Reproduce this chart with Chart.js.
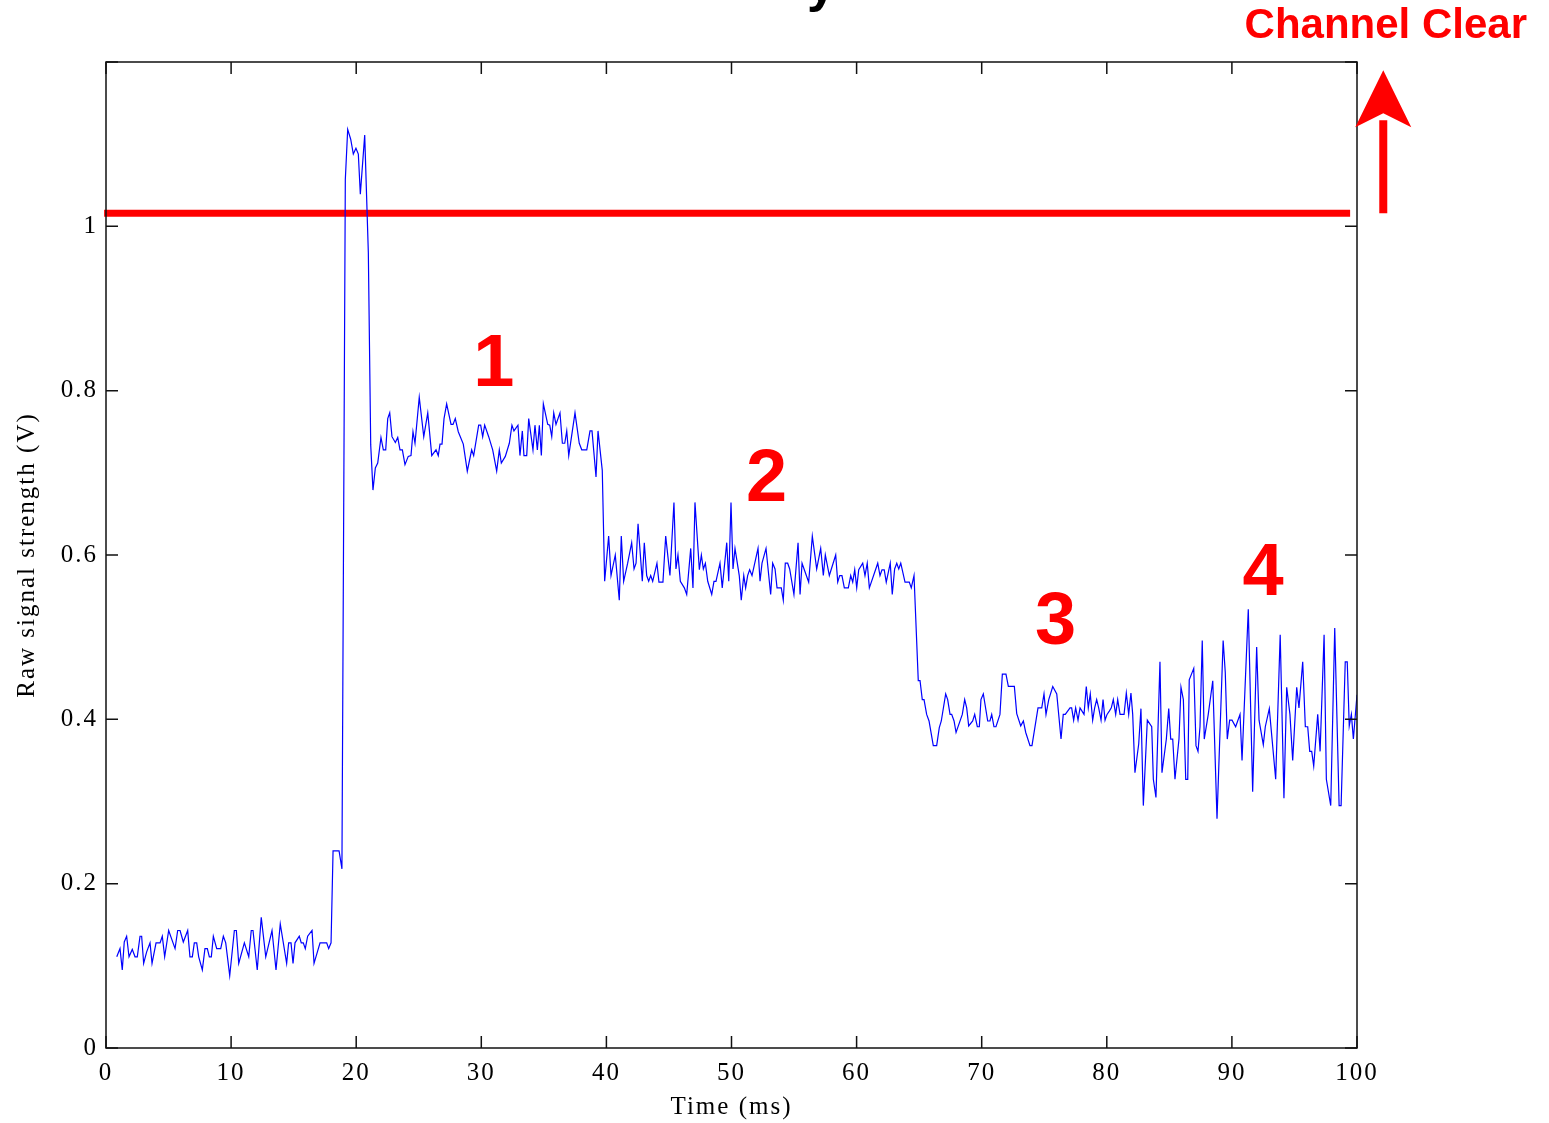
<!DOCTYPE html>
<html>
<head>
<meta charset="utf-8">
<script src="https://cdn.jsdelivr.net/npm/chart.js@4/dist/chart.umd.min.js"></script>
<style>
  html, body { margin: 0; padding: 0; background: #fff; }
  canvas { display: block; }
</style>
</head>
<body>
<canvas id="signalChart" width="1549" height="1123"></canvas>
<script>
// Time samples (ms) and raw signal (V)
const timeMs = [
  0.86, 1.12, 1.30, 1.46, 1.65, 1.84, 2.10, 2.32, 2.50, 2.72, 2.85, 3.01, 3.25, 3.52, 3.68, 4.00, 4.32, 4.50, 4.69, 5.01,
  5.52, 5.73, 5.92, 6.18, 6.53, 6.71, 6.90, 7.06, 7.25, 7.41, 7.70, 7.91, 8.10, 8.26, 8.42, 8.58, 8.85, 9.17, 9.38, 9.57,
  9.89, 10.26, 10.42, 10.61, 11.06, 11.41, 11.61, 11.75, 12.09, 12.41, 12.77, 13.27, 13.59, 13.93, 14.44, 14.60, 14.79, 14.95, 15.11, 15.45,
  15.61, 15.77, 15.93, 16.12, 16.47, 16.63, 17.11, 17.64, 17.80, 17.99, 18.15, 18.63, 18.86, 19.13, 19.32, 19.56, 19.77, 19.98, 20.17, 20.33,
  20.68, 20.97, 21.16, 21.34, 21.53, 21.72, 21.98, 22.17, 22.36, 22.52, 22.68, 22.86, 23.13, 23.32, 23.50, 23.69, 23.90, 24.16, 24.38, 24.54,
  24.70, 25.04, 25.40, 25.72, 26.04, 26.38, 26.56, 26.70, 26.86, 27.02, 27.23, 27.58, 27.74, 27.92, 28.16, 28.56, 28.88, 29.23, 29.39, 29.79,
  29.95, 30.11, 30.27, 30.59, 30.91, 31.23, 31.44, 31.60, 31.92, 32.24, 32.45, 32.61, 32.93, 33.09, 33.28, 33.41, 33.63, 33.79, 34.13, 34.29,
  34.48, 34.64, 34.80, 34.96, 35.31, 35.47, 35.63, 35.79, 35.97, 36.29, 36.48, 36.67, 36.83, 36.99, 37.49, 37.83, 38.03, 38.43, 38.69, 38.85,
  39.17, 39.33, 39.67, 39.86, 40.18, 40.37, 40.71, 41.03, 41.19, 41.38, 41.70, 42.02, 42.21, 42.37, 42.53, 42.87, 43.03, 43.22, 43.38, 43.54,
  43.70, 44.04, 44.20, 44.52, 44.74, 45.08, 45.40, 45.56, 45.72, 45.91, 46.23, 46.42, 46.74, 46.92, 47.08, 47.43, 47.59, 47.75, 47.91, 48.10,
  48.42, 48.60, 48.76, 49.08, 49.26, 49.62, 49.78, 49.96, 50.12, 50.28, 50.62, 50.78, 50.98, 51.13, 51.29, 51.45, 51.64, 52.12, 52.28, 52.44,
  52.76, 53.13, 53.29, 53.48, 53.64, 53.98, 54.14, 54.30, 54.49, 54.65, 54.99, 55.32, 55.48, 55.64, 55.82, 56.17, 56.46, 56.81, 57.13, 57.34,
  57.50, 57.82, 58.33, 58.49, 58.65, 58.83, 59.02, 59.34, 59.53, 59.69, 59.85, 60.01, 60.17, 60.49, 60.67, 60.85, 61.02, 61.69, 61.87, 62.03,
  62.21, 62.37, 62.69, 62.85, 63.04, 63.21, 63.37, 63.53, 63.87, 64.21, 64.37, 64.59, 64.93, 65.07, 65.25, 65.39, 65.60, 65.79, 66.13, 66.40,
  66.61, 66.77, 67.12, 67.28, 67.47, 67.60, 67.79, 67.95, 68.45, 68.64, 68.80, 68.96, 69.28, 69.44, 69.65, 69.81, 69.94, 70.13, 70.48, 70.66,
  70.80, 70.98, 71.14, 71.46, 71.65, 71.94, 72.13, 72.61, 72.80, 73.12, 73.33, 73.52, 73.86, 74.02, 74.50, 74.80, 74.98, 75.14, 75.36, 75.68,
  76.00, 76.34, 76.52, 76.68, 76.87, 77.06, 77.19, 77.35, 77.51, 77.70, 77.86, 78.18, 78.36, 78.52, 78.68, 78.87, 79.03, 79.19, 79.35, 79.54,
  79.70, 79.86, 80.02, 80.20, 80.36, 80.52, 80.71, 80.87, 81.06, 81.38, 81.56, 81.75, 81.93, 82.07, 82.25, 82.55, 82.73, 82.92, 83.24, 83.59,
  83.72, 83.93, 84.25, 84.41, 84.76, 84.95, 85.11, 85.27, 85.45, 85.77, 85.93, 86.12, 86.31, 86.47, 86.59, 86.95, 87.13, 87.29, 87.45, 87.63,
  87.79, 88.11, 88.47, 88.81, 89.30, 89.47, 89.63, 89.82, 90.01, 90.30, 90.65, 90.81, 91.31, 91.66, 91.98, 92.17, 92.51, 92.67, 92.99, 93.50,
  93.86, 94.16, 94.38, 94.64, 94.86, 95.18, 95.36, 95.66, 95.87, 96.06, 96.22, 96.38, 96.54, 96.86, 97.05, 97.37, 97.55, 97.90, 98.22, 98.57,
  98.73, 99.06, 99.22, 99.38, 99.55, 99.71, 100.0
];
const signalV = [
  0.111, 0.121, 0.095, 0.129, 0.136, 0.111, 0.120, 0.111, 0.111, 0.136, 0.136, 0.103, 0.117, 0.128, 0.103, 0.128, 0.128, 0.136, 0.111, 0.143,
  0.121, 0.143, 0.143, 0.129, 0.143, 0.111, 0.111, 0.128, 0.128, 0.111, 0.095, 0.121, 0.121, 0.111, 0.111, 0.136, 0.121, 0.121, 0.136, 0.128,
  0.088, 0.143, 0.143, 0.103, 0.128, 0.111, 0.143, 0.143, 0.095, 0.159, 0.111, 0.143, 0.095, 0.151, 0.103, 0.128, 0.128, 0.103, 0.128, 0.136,
  0.128, 0.128, 0.121, 0.136, 0.143, 0.103, 0.128, 0.128, 0.121, 0.128, 0.240, 0.240, 0.218, 1.057, 1.118, 1.106, 1.088, 1.095, 1.088, 1.039,
  1.111, 0.968, 0.734, 0.679, 0.706, 0.712, 0.743, 0.728, 0.728, 0.766, 0.773, 0.744, 0.737, 0.743, 0.728, 0.728, 0.710, 0.720, 0.721, 0.750,
  0.736, 0.792, 0.744, 0.773, 0.721, 0.728, 0.721, 0.735, 0.735, 0.766, 0.784, 0.759, 0.759, 0.766, 0.750, 0.735, 0.702, 0.728, 0.721, 0.758,
  0.758, 0.744, 0.758, 0.744, 0.728, 0.702, 0.728, 0.712, 0.720, 0.736, 0.758, 0.751, 0.758, 0.721, 0.751, 0.721, 0.721, 0.766, 0.728, 0.758,
  0.728, 0.758, 0.721, 0.784, 0.759, 0.758, 0.744, 0.773, 0.759, 0.773, 0.736, 0.736, 0.751, 0.721, 0.773, 0.736, 0.728, 0.728, 0.751, 0.751,
  0.695, 0.751, 0.703, 0.568, 0.623, 0.575, 0.600, 0.545, 0.623, 0.568, 0.590, 0.615, 0.583, 0.590, 0.638, 0.568, 0.615, 0.575, 0.568, 0.575,
  0.568, 0.590, 0.567, 0.567, 0.623, 0.575, 0.664, 0.583, 0.600, 0.568, 0.560, 0.552, 0.608, 0.560, 0.664, 0.582, 0.600, 0.583, 0.590, 0.568,
  0.552, 0.568, 0.568, 0.590, 0.560, 0.615, 0.568, 0.664, 0.583, 0.608, 0.575, 0.545, 0.575, 0.560, 0.575, 0.582, 0.575, 0.608, 0.568, 0.590,
  0.608, 0.552, 0.590, 0.583, 0.560, 0.560, 0.545, 0.590, 0.590, 0.583, 0.552, 0.615, 0.552, 0.590, 0.582, 0.567, 0.623, 0.583, 0.608, 0.575,
  0.600, 0.575, 0.600, 0.567, 0.575, 0.575, 0.560, 0.560, 0.575, 0.567, 0.582, 0.560, 0.582, 0.590, 0.575, 0.590, 0.560, 0.590, 0.575, 0.582,
  0.582, 0.567, 0.590, 0.552, 0.583, 0.590, 0.583, 0.590, 0.567, 0.567, 0.560, 0.575, 0.447, 0.447, 0.424, 0.424, 0.406, 0.398, 0.368, 0.368,
  0.390, 0.398, 0.431, 0.424, 0.406, 0.406, 0.398, 0.384, 0.406, 0.424, 0.414, 0.392, 0.398, 0.406, 0.391, 0.391, 0.424, 0.431, 0.398, 0.398,
  0.406, 0.391, 0.391, 0.406, 0.455, 0.455, 0.440, 0.440, 0.407, 0.392, 0.398, 0.384, 0.368, 0.368, 0.414, 0.414, 0.431, 0.406, 0.424, 0.440,
  0.431, 0.376, 0.406, 0.406, 0.410, 0.414, 0.414, 0.399, 0.414, 0.399, 0.414, 0.406, 0.440, 0.414, 0.431, 0.399, 0.414, 0.424, 0.414, 0.399,
  0.424, 0.399, 0.406, 0.410, 0.414, 0.424, 0.406, 0.424, 0.406, 0.406, 0.432, 0.406, 0.432, 0.406, 0.335, 0.370, 0.413, 0.295, 0.399, 0.391,
  0.327, 0.305, 0.470, 0.335, 0.376, 0.413, 0.376, 0.376, 0.327, 0.376, 0.439, 0.424, 0.327, 0.327, 0.448, 0.462, 0.368, 0.361, 0.391, 0.496,
  0.376, 0.406, 0.447, 0.279, 0.496, 0.457, 0.376, 0.399, 0.399, 0.391, 0.406, 0.350, 0.534, 0.312, 0.488, 0.399, 0.369, 0.391, 0.413, 0.327,
  0.503, 0.304, 0.439, 0.406, 0.350, 0.439, 0.414, 0.470, 0.391, 0.391, 0.361, 0.361, 0.343, 0.406, 0.361, 0.503, 0.327, 0.295, 0.511, 0.295,
  0.295, 0.470, 0.470, 0.392, 0.406, 0.376, 0.430
];

// Threshold line and annotations
const thresholdV = 1.016;
const thresholdSpan = [-0.15, 99.45];
const stageLabels = ['1', '2', '3', '4'];
const stageX = [31.0, 52.8, 75.9, 92.5];
const stageY = [0.831, 0.690, 0.516, 0.576];
const clearLabel = 'Channel Clear';
const clearPos = [102.3, 1.243];
const arrowX = 102.1;
const arrowFromTo = [1.016, 1.19];

const xTicks = [0, 10, 20, 30, 40, 50, 60, 70, 80, 90, 100];
const yTicks = [0, 0.2, 0.4, 0.6, 0.8, 1.0, 1.2];

const serif = '"Liberation Serif", "Times New Roman", serif';
const sans = '"Liberation Sans", Arial, sans-serif';

// the axis text in the original is loosely spaced
const spacingPlugin = {
    id: 'spacing',
    beforeDraw(chart) { chart.ctx.letterSpacing = '2px'; },
    afterDraw(chart) { chart.ctx.letterSpacing = '0px'; }
};

// box, inward ticks, red labels and arrow
const decorPlugin = {
    id: 'decor',
    afterDatasetsDraw(chart) {
        const ctx = chart.ctx;
        const a = chart.chartArea;
        const xs = chart.scales.x;
        const ys = chart.scales.y;
        const tick = 12;

        ctx.save();
        ctx.letterSpacing = '0px';
        ctx.strokeStyle = '#111';
        ctx.lineWidth = 1.5;
        ctx.strokeRect(a.left, a.top, a.right - a.left, a.bottom - a.top);
        ctx.beginPath();
        xTicks.forEach(v => {
            const px = xs.getPixelForValue(v);
            ctx.moveTo(px, a.bottom); ctx.lineTo(px, a.bottom - tick);
            ctx.moveTo(px, a.top); ctx.lineTo(px, a.top + tick);
        });
        yTicks.forEach(v => {
            const py = ys.getPixelForValue(v);
            ctx.moveTo(a.left, py); ctx.lineTo(a.left + tick, py);
            ctx.moveTo(a.right, py); ctx.lineTo(a.right - tick, py);
        });
        ctx.stroke();

        // stage numbers
        ctx.fillStyle = '#ff0000';
        ctx.textAlign = 'center';
        ctx.textBaseline = 'middle';
        ctx.font = 'bold 74px ' + sans;
        stageLabels.forEach((s, i) => {
            ctx.fillText(s, xs.getPixelForValue(stageX[i]), ys.getPixelForValue(stageY[i]));
        });

        ctx.font = 'bold 42px ' + sans;
        ctx.fillText(clearLabel, xs.getPixelForValue(clearPos[0]), ys.getPixelForValue(clearPos[1]));

        // arrow
        const ax = xs.getPixelForValue(arrowX);
        const y0 = ys.getPixelForValue(arrowFromTo[0]);
        const y1 = ys.getPixelForValue(arrowFromTo[1]);
        ctx.strokeStyle = '#ff0000';
        ctx.lineWidth = 8;
        ctx.beginPath();
        ctx.moveTo(ax, y0);
        ctx.lineTo(ax, y1 + 50);
        ctx.stroke();
        ctx.beginPath();
        ctx.moveTo(ax, y1);
        ctx.lineTo(ax + 28, y1 + 57);
        ctx.lineTo(ax, y1 + 43);
        ctx.lineTo(ax - 28, y1 + 57);
        ctx.closePath();
        ctx.fill();

        // cut-off title glyph at the top edge
        ctx.fillStyle = '#000';
        ctx.font = 'bold 52px ' + sans;
        ctx.textBaseline = 'alphabetic';
        ctx.fillText('y', xs.getPixelForValue(57.2), 1);
        ctx.restore();
    }
};

const signalCtx = document.getElementById('signalChart').getContext('2d');
const signalChart = new Chart(signalCtx, {
    type: 'line',
    data: {
        datasets: [{
            label: 'Raw signal',
            data: timeMs.map((t, i) => ({x: t, y: signalV[i]})),
            borderColor: '#0000ff',
            borderWidth: 1.2,
            pointRadius: 0,
            tension: 0
        }, {
            label: 'Threshold',
            data: thresholdSpan.map(t => ({x: t, y: thresholdV})),
            borderColor: '#ff0000',
            borderWidth: 7,
            pointRadius: 0,
            clip: false
        }]
    },
    options: {
        responsive: false,
        animation: false,
        devicePixelRatio: 1,
        layout: {
            padding: {top: 62, right: 192, bottom: 0, left: 0}
        },
        plugins: {
            legend: {display: false},
            tooltip: {enabled: false}
        },
        scales: {
            x: {
                type: 'linear',
                min: 0,
                max: 100,
                afterFit: s => { s.height = 75; },
                border: {display: false},
                grid: {display: false, drawTicks: false},
                ticks: {
                    stepSize: 10,
                    maxRotation: 0,
                    autoSkip: false,
                    padding: 10,
                    color: '#000',
                    font: {family: serif, size: 25}
                },
                title: {
                    display: true,
                    text: 'Time (ms)',
                    color: '#000',
                    font: {family: serif, size: 25},
                    padding: {top: 0, bottom: 1}
                }
            },
            y: {
                min: 0,
                max: 1.2,
                afterFit: s => { s.width = 106; },
                border: {display: false},
                grid: {display: false, drawTicks: false},
                ticks: {
                    stepSize: 0.2,
                    padding: 8,
                    color: '#000',
                    font: {family: serif, size: 25},
                    callback: v => v > 1.1 ? '' : String(Math.round(v * 10) / 10)
                },
                title: {
                    display: true,
                    text: 'Raw signal strength (V)',
                    color: '#000',
                    font: {family: serif, size: 25},
                    padding: {top: 12, bottom: 0}
                }
            }
        }
    },
    plugins: [spacingPlugin, decorPlugin]
});
</script>
</body>
</html>
